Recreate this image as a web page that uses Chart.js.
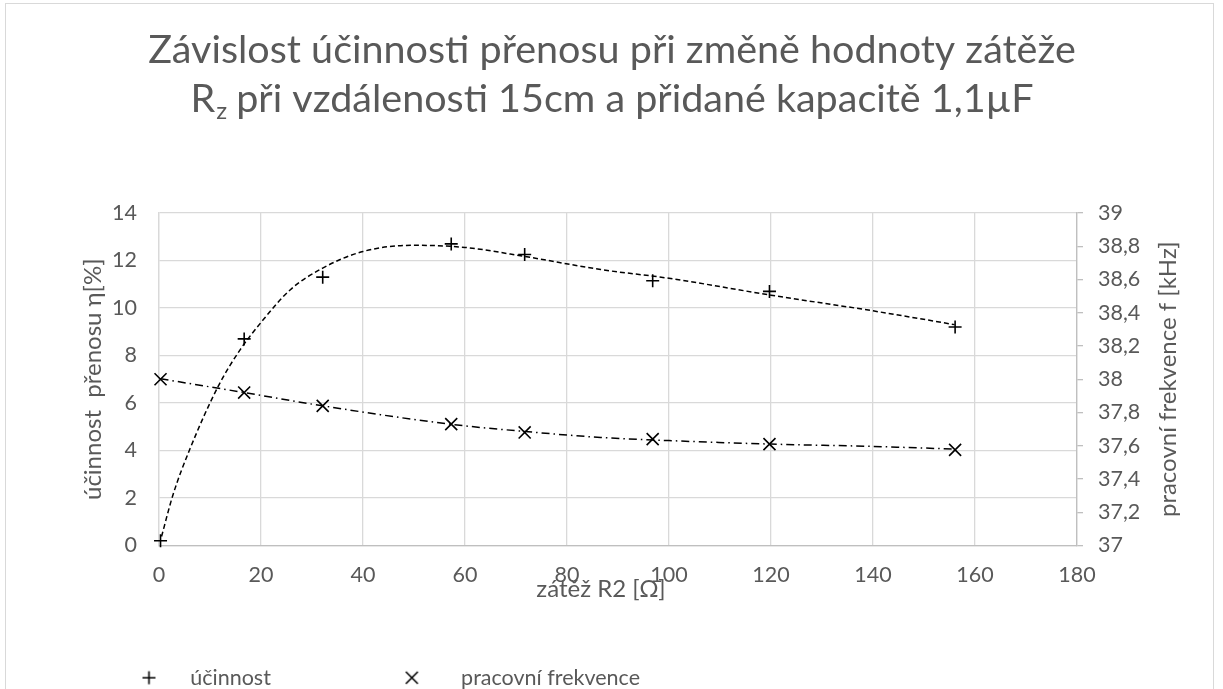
<!DOCTYPE html>
<html><head><meta charset="utf-8">
<script src="https://cdn.jsdelivr.net/npm/chart.js@4.4.1/dist/chart.umd.min.js"></script>
<style>html,body{margin:0;padding:0;background:#fff;}</style>
</head><body>
<canvas id="c" width="1223" height="689"></canvas>
<script>
// ---- data ----
const loadR = [0.3, 16.7, 32.1, 57.3, 71.7, 96.8, 119.7, 156.1];
const efficiency = [0.2, 8.7, 11.3, 12.7, 12.25, 11.15, 10.7, 9.2];
const frequency = [38.0, 37.92, 37.84, 37.73, 37.68, 37.64, 37.61, 37.575];

const effTrendX = [0.5, 2.75, 6, 11.6, 15.9, 20, 25.7, 32.1, 40, 50, 60, 71.7, 86.6, 100, 120, 140, 156];
const effTrendY = [0.38, 2.14, 4.03, 6.7, 8.24, 9.39, 10.76, 11.68, 12.38, 12.64, 12.55, 12.17, 11.62, 11.25, 10.54, 9.88, 9.3];
const freqTrendX = [0.3, 16.7, 32.1, 57.3, 71.7, 86.6, 100, 120, 140, 156];
const freqTrendY = [38.003, 37.92, 37.84, 37.729, 37.686, 37.65, 37.631, 37.61, 37.596, 37.58];

const seriesNames = ['účinnost', 'pracovní frekvence'];
const titleLine1 = 'Závislost účinnosti přenosu při změně hodnoty zátěže';
const titleLine2Main = 'R';
const titleLine2Sub = 'z';
const titleLine2Rest = ' při vzdálenosti 15cm a přidané kapacitě 1,1µF';
const xTitle = 'zátěž R2 [Ω]';
const yTitle = 'účinnost  přenosu η[%]';
const y2Title = 'pracovní frekvence f [kHz]';

const FONT = 'Lato, "Open Sans", sans-serif';
const TXT = '#595959';
const AXIS_TITLE_SIZE = 24;

function pts(xs, ys) { return xs.map((x, i) => ({x: x, y: ys[i]})); }

function legendIcon(kind, offset) {
  const c = document.createElement('canvas');
  c.width = 160; c.height = 20;
  const g = c.getContext('2d');
  g.strokeStyle = '#000'; g.lineWidth = 1.6;
  g.beginPath();
  if (kind === 'plus') {
    g.moveTo(offset - 6.5, 10); g.lineTo(offset + 6.5, 10);
    g.moveTo(offset, 3.5); g.lineTo(offset, 16.5);
  } else {
    g.moveTo(offset - 6, 4); g.lineTo(offset + 6, 16);
    g.moveTo(offset - 6, 16); g.lineTo(offset + 6, 4);
  }
  g.stroke();
  return c;
}
const icons = [legendIcon('plus', 129.5), legendIcon('x', 121.5)];

const framePlugin = {
  id: 'frame',
  beforeDraw(chart) {
    const ctx = chart.ctx;
    ctx.save();
    ctx.fillStyle = '#fff';
    ctx.fillRect(0, 0, chart.width, chart.height);
    ctx.strokeStyle = '#d9d9d9';
    ctx.lineWidth = 1;
    ctx.strokeRect(5.5, 3.5, 1208, 700);
    ctx.restore();
  }
};

const textPlugin = {
  id: 'texts',
  afterDraw(chart) {
    const ctx = chart.ctx;
    const area = chart.chartArea;
    const size = 39.5;
    const subSize = Math.round(size * 0.62);
    ctx.save();
    ctx.fillStyle = TXT;
    ctx.textBaseline = 'alphabetic';
    ctx.font = size + 'px ' + FONT;
    ctx.textAlign = 'center';
    const cx = 612;
    ctx.fillText(titleLine1, cx, 63);
    ctx.textAlign = 'left';
    const wR = ctx.measureText(titleLine2Main).width;
    const wRest = ctx.measureText(titleLine2Rest).width;
    ctx.font = subSize + 'px ' + FONT;
    const wz = ctx.measureText(titleLine2Sub).width;
    let x = cx - (wR + wz + wRest) / 2;
    ctx.font = size + 'px ' + FONT;
    ctx.fillText(titleLine2Main, x, 112);
    x += wR + 1;
    ctx.font = subSize + 'px ' + FONT;
    ctx.fillText(titleLine2Sub, x, 119);
    x += wz - 1;
    ctx.font = size + 'px ' + FONT;
    ctx.fillText(titleLine2Rest, x, 112);

    // axis titles
    ctx.font = AXIS_TITLE_SIZE + 'px ' + FONT;
    ctx.textAlign = 'center';
    ctx.textBaseline = 'middle';
    ctx.fillText(xTitle, 601, 589);
    const cy = (area.top + area.bottom) / 2;
    ctx.save();
    ctx.translate(93, cy);
    ctx.rotate(-Math.PI / 2);
    ctx.fillText(yTitle, 0, 0);
    ctx.restore();
    ctx.save();
    ctx.translate(1168, cy);
    ctx.rotate(-Math.PI / 2);
    ctx.fillText(y2Title, 0, 0);
    ctx.restore();
    ctx.restore();
  }
};

const fmt = v => Number(v.toFixed(1)).toString().replace('.', ',');

new Chart(document.getElementById('c'), {
  type: 'scatter',
  data: {
    datasets: [
      { label: seriesNames[0], data: pts(loadR, efficiency), yAxisID: 'y', showLine: false,
        pointStyle: 'cross', pointRadius: 6.5, pointBorderWidth: 1.6, borderColor: '#000', backgroundColor: '#000', clip: false, order: 0 },
      { label: seriesNames[1], data: pts(loadR, frequency), yAxisID: 'y2', showLine: false,
        pointStyle: 'crossRot', pointRadius: 8.5, pointBorderWidth: 1.6, borderColor: '#000', backgroundColor: '#000', clip: false, order: 1 },
      { label: 'trend1', data: pts(effTrendX, effTrendY), yAxisID: 'y', showLine: true, pointRadius: 0,
        borderColor: '#000', borderWidth: 1.5, borderDash: [5, 3], cubicInterpolationMode: 'monotone', order: 2 },
      { label: 'trend2', data: pts(freqTrendX, freqTrendY), yAxisID: 'y2', showLine: true, pointRadius: 0,
        borderColor: '#000', borderWidth: 1.5, borderDash: [8, 4, 1.5, 4], cubicInterpolationMode: 'monotone', order: 3 }
    ]
  },
  options: {
    responsive: false,
    animation: false,
    layout: { padding: { top: 213, left: 0, right: 45, bottom: -9.5 } },
    scales: {
      x: {
        type: 'linear', min: 0, max: 180,
        afterFit(s) { s.height = 102; },
        ticks: { stepSize: 20, color: TXT, font: { family: FONT, size: 21.5 }, padding: 17, maxRotation: 0 },
        grid: { color: '#d9d9d9', drawTicks: false, lineWidth: 1.3 },
        border: { color: '#bfbfbf', width: 1.3 },
        title: { display: false, text: xTitle }
      },
      y: {
        position: 'left', min: 0, max: 14,
        afterFit(s) { s.width = 159; },
        ticks: { stepSize: 2, color: TXT, font: { family: FONT, size: 21.5 }, padding: 22 },
        grid: { color: '#d9d9d9', drawTicks: false, lineWidth: 1.3 },
        border: { color: '#d9d9d9', width: 1.3 },
        title: { display: false, text: yTitle }
      },
      y2: {
        position: 'right', min: 37, max: 39,
        afterFit(s) { s.width = 101; },
        ticks: { stepSize: 0.2, color: TXT, font: { family: FONT, size: 21.5 }, padding: 15, callback: v => fmt(v) },
        grid: { drawOnChartArea: false, color: '#bfbfbf', tickLength: 6, lineWidth: 1.3 },
        border: { color: '#bfbfbf', width: 1.3 },
        title: { display: false, text: y2Title }
      }
    },
    plugins: {
      title: { display: false },
      tooltip: { enabled: false },
      legend: {
        position: 'bottom', align: 'start',
        labels: {
          usePointStyle: true, pointStyleWidth: 160, padding: 19.5,
          color: TXT, font: { family: FONT, size: 21.5 },
          filter: item => item.datasetIndex < 2,
          generateLabels(chart) {
            const items = Chart.defaults.plugins.legend.labels.generateLabels(chart);
            items.forEach(it => { if (it.datasetIndex < 2) it.pointStyle = icons[it.datasetIndex]; });
            return items;
          }
        }
      }
    }
  },
  plugins: [framePlugin, textPlugin]
});
</script>
</body></html>
